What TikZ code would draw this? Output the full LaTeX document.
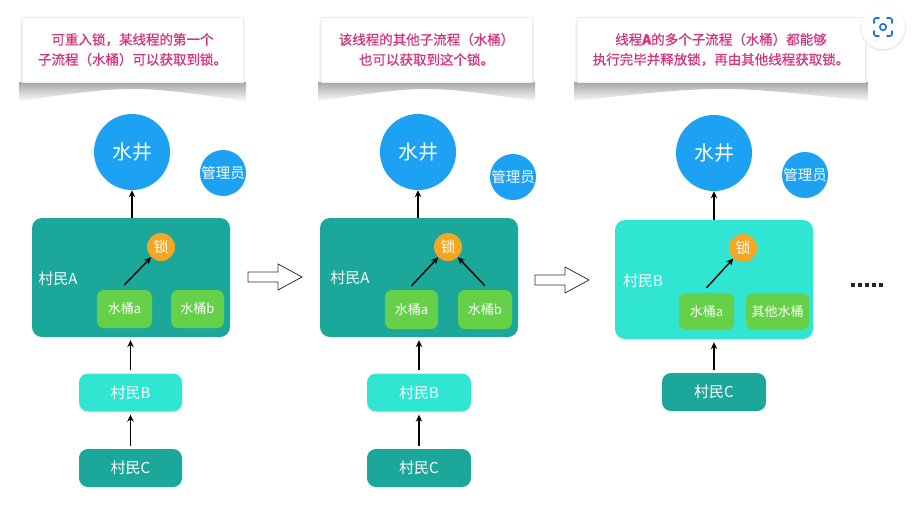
\documentclass[tikz,border=0pt]{standalone}
\usepackage{fontspec}
\setmainfont{Noto Sans CJK SC}
\newfontfamily\notefont{Noto Sans CJK SC}[FakeBold=0.6]
\usetikzlibrary{arrows.meta,shapes.geometric}
\definecolor{wellblue}{HTML}{1DA1F2}
\definecolor{tealc}{HTML}{1BA89B}
\definecolor{turq}{HTML}{30E6D2}
\definecolor{greenc}{HTML}{66D148}
\definecolor{orangec}{HTML}{F5A623}
\definecolor{notepink}{HTML}{D6337F}
\definecolor{lensblue}{HTML}{1A73E8}
\begin{document}
\begin{tikzpicture}[x=1pt,y=-1pt,
  notebox/.style={fill=white,draw=gray!15,minimum height=65pt,text=notepink,align=center,
    font=\notefont\fontsize{13.5}{20}\selectfont,inner sep=0pt},
  wellc/.style={circle,fill=wellblue,minimum size=76pt,inner sep=0pt,text=white,font=\fontsize{20}{22}\selectfont},
  mgrc/.style={circle,fill=wellblue,minimum size=46pt,inner sep=0pt,text=white,font=\fontsize{14.5}{16}\selectfont},
  bigbox/.style={rounded corners=10pt,minimum width=198pt,minimum height=119pt,inner sep=0pt},
  lockc/.style={circle,fill=orangec,minimum size=28pt,inner sep=0pt,text=white,font=\fontsize{15}{16}\selectfont},
  bucket/.style={rounded corners=7pt,fill=greenc,minimum height=38pt,inner sep=0pt,text=white,font=\fontsize{13}{15}\selectfont},
  villager/.style={rounded corners=9pt,minimum width=103pt,minimum height=38pt,inner sep=0pt,text=white,font=\fontsize{15}{17}\selectfont},
  lbl/.style={text=white,font=\fontsize{15}{17}\selectfont,inner sep=0pt},
  arr/.style={line width=1.4pt,-{Stealth[length=7pt,width=6.5pt]}},
  hollow/.style={draw=black!80,fill=white,line width=0.8pt,line join=miter}
]
\useasboundingbox (0,0) rectangle (918,506);
\fill[white] (0,0) rectangle (918,506);

% ---------- note shadows ----------
\foreach \xa/\xb in {22/243, 321/532, 577/865}{
  \shade[top color=gray!70,bottom color=gray!4]
    (\xa-3,82) -- (\xa-3,101) .. controls ({(\xa+\xb)/2},85) .. (\xb+3,101) -- (\xb+3,82) -- cycle;
  \fill[gray!10] (\xa-2,22) rectangle (\xb+2,82);
}

% ---------- panel 1 ----------
\node[notebox,minimum width=221pt] (note1) at (132.5,49.5) {可重入锁，某线程的第一个\\子流程（水桶）可以获取到锁。};
\node[wellc] (well1) at (132,152) {水井};
\node[mgrc] (mgr1) at (223,173) {管理员};
\node[bigbox,fill=tealc] (A1) at (131,277.5) {};
\node[lockc] (lock1) at (161,247) {锁};
\node[lbl] (la1) at (58,279) {村民A};
\node[bucket,minimum width=55pt] (ba1) at (124.5,309) {水桶a};
\node[bucket,minimum width=53pt] (bb1) at (197.5,309) {水桶b};
\node[villager,fill=turq] (B1) at (130.5,392.5) {村民B};
\node[villager,fill=tealc] (C1) at (130.5,468) {村民C};
\draw[arr] (well1.south |- A1.north) -- (well1.south);
\draw[arr] ([yshift=5pt]ba1.north) -- (lock1);
\draw[arr,shorten <=3pt,shorten >=3pt] (B1.north) -- (B1.north |- A1.south);
\draw[arr,shorten <=3pt,shorten >=3pt] (C1.north) -- (B1.south);

% hollow arrow 1
\coordinate (h1) at (248,277);
\draw[hollow] (h1) ++(0,-5) -- ++(30,0) -- ++(0,-8) -- ++(24,13) -- ++(-24,13) -- ++(0,-8) -- ++(-30,0) -- cycle;

% ---------- panel 2 ----------
\node[notebox,minimum width=211pt] (note2) at (426.5,49.5) {该线程的其他子流程（水桶）\\也可以获取到这个锁。};
\node[wellc] (well2) at (418,152) {水井};
\node[mgrc] (mgr2) at (513,177) {管理员};
\node[bigbox,fill=tealc] (A2) at (419,277.5) {};
\node[lockc] (lock2) at (448,247) {锁};
\node[lbl] (la2) at (350,278) {村民A};
\node[bucket,minimum width=53pt,minimum height=39pt] (ba2) at (411.5,309.5) {水桶a};
\node[bucket,minimum width=54pt,minimum height=39pt] (bb2) at (485,309.5) {水桶b};
\node[villager,fill=turq,minimum width=104pt] (B2) at (419,392.5) {村民B};
\node[villager,fill=tealc,minimum width=104pt] (C2) at (419,468) {村民C};
\draw[arr] (well2.south |- A2.north) -- (well2.south);
\draw[arr] ([yshift=4pt]ba2.north) -- (lock2);
\draw[arr] ([yshift=4pt]bb2.north) -- (lock2);
\draw[arr,shorten <=3pt,shorten >=3pt] (B2.north) -- (B2.north |- A2.south);
\draw[arr,shorten <=3pt,shorten >=3pt] (C2.north) -- (B2.south);

% hollow arrow 2
\coordinate (h2) at (535,280);
\draw[hollow] (h2) ++(0,-5) -- ++(30,0) -- ++(0,-8) -- ++(24,13) -- ++(-24,13) -- ++(0,-8) -- ++(-30,0) -- cycle;

% ---------- panel 3 ----------
\node[notebox,minimum width=288pt] (note3) at (721,49.5) {线程\textbf{A}的多个子流程（水桶）都能够\\执行完毕并释放锁，再由其他线程获取锁。};
\node[wellc] (well3) at (714,153) {水井};
\node[mgrc] (mgr3) at (805,175) {管理员};
\node[bigbox,fill=turq] (B3) at (714,279.5) {};
\node[lockc] (lock3) at (743,248) {锁};
\node[lbl] (lb3) at (643,281) {村民B};
\node[bucket,minimum width=55pt,minimum height=37pt] (ba3) at (706.5,311.5) {水桶a};
\node[bucket,minimum width=63pt,minimum height=37pt] (oth3) at (777.5,311.5) {其他水桶};
\node[villager,fill=tealc,minimum width=104pt] (C3) at (714,392) {村民C};
\draw[arr] (well3.south |- B3.north) -- (well3.south);
\draw[arr] ([yshift=5pt]ba3.north) -- (lock3);
\draw[arr,shorten <=3pt,shorten >=3pt] (C3.north) -- (C3.north |- B3.south);
\node[inner sep=0pt,minimum width=34pt,minimum height=4pt] (dots) at (869,285) {};
\foreach \i in {0,1,2,3,4}{
  \fill[black!85] ([xshift=\i*7pt+1pt]dots.west) ++(-1.6,-1.6) rectangle ++(3.4,3.4);
}

% ---------- lens icon ----------
\fill[gray!15] (883,28) circle (23);
\node[circle,fill=white,minimum size=44pt,inner sep=0pt] (lens) at (883,27) {};
\begin{scope}[lensblue,line width=1.6pt,line cap=round,rounded corners=2pt]
  \draw (874,23) -- (874,18) -- (879,18);
  \draw (887,18) -- (892,18) -- (892,23);
  \draw (892,31) -- (892,36) -- (887,36);
  \draw (879,36) -- (874,36) -- (874,31);
  \draw (883,27) circle (3.2);
\end{scope}
\end{tikzpicture}
\end{document}
